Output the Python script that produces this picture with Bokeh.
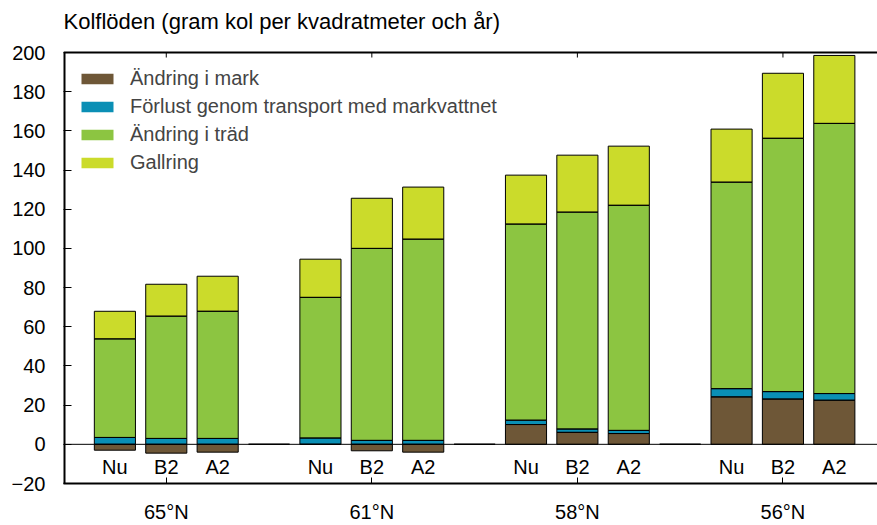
import pandas as pd
from bokeh.plotting import figure
from bokeh.models import FixedTicker, LinearAxis, Span, ColumnDataSource, Range1d
from bokeh.core.properties import value
from bokeh.embed import file_html
from bokeh.resources import INLINE

FONT = "Liberation Sans"

title_text = "Kolflöden (gram kol per kvadratmeter och år)"
groups = ["65°N", "61°N", "58°N", "56°N"]
scenarios = ["Nu", "B2", "A2"]
series_names = ["Ändring i mark", "Förlust genom transport med markvattnet",
                "Ändring i träd", "Gallring"]
colors = ["#6e5737", "#0a8fb5", "#8cc541", "#cbdb2b"]

# values in order: 65°N (Nu, B2, A2), 61°N (...), 58°N (...), 56°N (...)
andring_mark = [-3.0, -4.5, -4.0, 0.0, -3.3, -4.0, 10.1, 6.1, 5.5, 24.2, 23.1, 22.5]
forlust = [3.5, 3.0, 3.0, 3.2, 2.0, 2.0, 2.2, 1.7, 1.6, 4.2, 3.8, 3.4]
andring_trad = [50.3, 62.4, 64.9, 71.8, 98.0, 102.7, 100.1, 110.7, 114.9, 105.4, 129.3, 137.9]
gallring = [14.1, 16.3, 17.9, 19.5, 25.6, 26.6, 25.0, 29.1, 30.2, 27.1, 33.2, 34.7]

series = [andring_mark, forlust, andring_trad, gallring]

Y_MIN, Y_MAX = -20, 200

# layout (pixels)
H, W = 525, 877
PLOT_TOP_PX, PLOT_BOTTOM_PX = 52, 483      # y=Y_MAX and y=Y_MIN on canvas
PX_PER_UNIT = (PLOT_BOTTOM_PX - PLOT_TOP_PX) / (Y_MAX - Y_MIN)
Y_TOP = Y_MIN + PLOT_BOTTOM_PX / PX_PER_UNIT   # frame reaches canvas top
TITLE_Y = Y_MIN + (PLOT_BOTTOM_PX - 21) / PX_PER_UNIT

# slot positions: each group has 3 bars followed by an empty slot
xs, labels = [], []
for gi, g in enumerate(groups):
    for si, s in enumerate(scenarios):
        xs.append(gi * 4 + si)
        labels.append(s)
gap_x = [gi * 4 + 3 for gi in range(len(groups) - 1)]
group_x = [gi * 4 + 1 for gi in range(len(groups))]
X_MIN, X_MAX = -1, 14.84

# stacking: positive values upwards from 0, negative downwards from 0
pos_base = [0.0] * len(xs)
neg_base = [0.0] * len(xs)
stacks = []
for vals in series:
    bottoms, tops = [], []
    for i, v in enumerate(vals):
        if v >= 0:
            b, t = pos_base[i], pos_base[i] + v
            pos_base[i] = t
        else:
            b, t = neg_base[i] + v, neg_base[i]
            neg_base[i] = b
        bottoms.append(b)
        tops.append(t)
    stacks.append(pd.DataFrame({"x": xs, "bottom": bottoms, "top": tops}))

p = figure(width=W, height=H, output_backend="svg", toolbar_location=None,
           x_range=Range1d(X_MIN, X_MAX), y_range=Range1d(Y_MIN, Y_TOP),
           min_border_left=63, min_border_right=0, min_border_top=0,
           min_border_bottom=H - PLOT_BOTTOM_PX, x_axis_location=None,
           y_axis_location=None)
p.outline_line_color = None
p.xgrid.visible = False
p.ygrid.visible = False
p.background_fill_color = "white"

# title
p.text(x=[X_MIN], y=[TITLE_Y], text=[title_text], text_align="left",
       text_baseline="middle", text_font=value(FONT), text_font_size="22px",
       text_color="black")

BAR_W = 0.8
for df, name, col in zip(stacks, series_names, colors):
    src = ColumnDataSource(df)
    p.vbar(x="x", bottom="bottom", top="top", width=BAR_W, source=src,
           fill_color=col, line_color=None, legend_label=name)
for df in stacks:
    src = ColumnDataSource(df)
    p.vbar(x="x", bottom="bottom", top="top", width=BAR_W, source=src,
           fill_color=None, line_color="black", line_width=1)

# empty slots between groups
p.vbar(x=gap_x, bottom=0, top=0, width=BAR_W, fill_color=None,
       line_color="black", line_width=1.5)

p.add_layout(Span(location=0, dimension="width", line_color="black", line_width=1))

# top frame line with tick marks at group centres
p.add_layout(Span(location=Y_MAX, dimension="width", line_color="black", line_width=2))
tick_len = 5 / PX_PER_UNIT
p.segment(x0=group_x, x1=group_x, y0=[Y_MAX] * len(group_x),
          y1=[Y_MAX - tick_len] * len(group_x), line_color="black", line_width=1)
# left axis line only between Y_MIN and Y_MAX
p.segment(x0=[X_MIN], x1=[X_MIN], y0=[Y_MIN], y1=[Y_MAX], line_color="black",
          line_width=4)

p.text(x=xs, y=[-11.5] * len(xs), text=labels, text_align="center",
       text_baseline="middle", text_font=value(FONT), text_font_size="20px",
       text_color="black")

# axes
yaxis = LinearAxis(ticker=FixedTicker(ticks=list(range(Y_MIN, Y_MAX + 1, 20))))
yaxis.axis_line_color = None
yaxis.major_tick_in = 8
yaxis.major_tick_out = 0
yaxis.minor_tick_line_color = None
yaxis.major_label_standoff = 18
yaxis.major_label_text_font = FONT
yaxis.major_label_text_font_size = "20px"
yaxis.major_label_text_color = "black"
p.add_layout(yaxis, "left")

xaxis = LinearAxis(ticker=FixedTicker(ticks=group_x))
xaxis.major_label_overrides = {x: g for x, g in zip(group_x, groups)}
xaxis.major_tick_in = 6
xaxis.major_tick_out = 0
xaxis.minor_tick_line_color = None
xaxis.axis_line_width = 2
xaxis.major_label_standoff = 17
xaxis.major_label_text_font = FONT
xaxis.major_label_text_font_size = "20px"
xaxis.major_label_text_color = "black"
p.add_layout(xaxis, "below")

leg = p.legend[0]
leg.location = (14, 309)
leg.border_line_color = None
leg.background_fill_alpha = 0
leg.glyph_width = 40
leg.glyph_height = 13
leg.label_text_font = FONT
leg.label_text_font_size = "20px"
leg.label_standoff = 13
leg.label_height = 20
leg.spacing = 5
leg.padding = 0
leg.margin = 0

open("out.html", "w").write(file_html(p, INLINE))
